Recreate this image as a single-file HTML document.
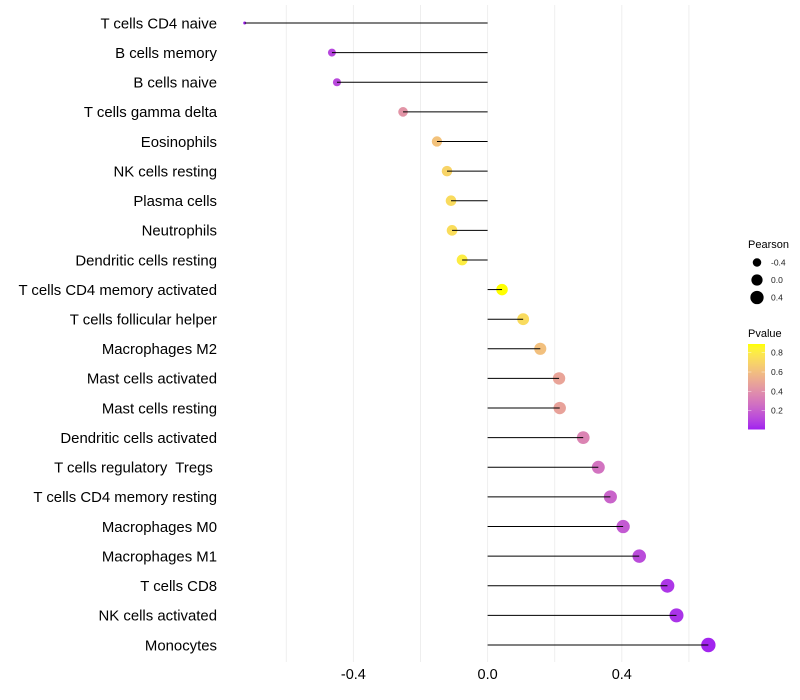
<!DOCTYPE html>
<html>
<head>
<meta charset="utf-8">
<style>
html,body{margin:0;padding:0;background:#fff;}
svg{display:block;font-family:"Liberation Sans",sans-serif;}
text{white-space:pre;}
</style>
</head>
<body>
<svg id="chart" width="800" height="700" viewBox="0 0 800 700" xmlns="http://www.w3.org/2000/svg">
<g id="grid"></g>
<g id="stems"></g>
<g id="points"></g>
<g id="ylabels"></g>
<g id="xlabels"></g>
<g id="size-legend">
<text x="748" y="248" font-size="11" fill="#000">Pearson</text>
</g>
<g id="color-legend">
<text x="748" y="337" font-size="11" fill="#000">Pvalue</text>
<defs><linearGradient id="pgrad" x1="0" y1="1" x2="0" y2="0"></linearGradient></defs>
<rect x="748" y="344" width="17" height="85.5" fill="url(#pgrad)"></rect>
</g>
</svg>
<script>
var categories = ["T cells CD4 naive","B cells memory","B cells naive","T cells gamma delta","Eosinophils","NK cells resting","Plasma cells","Neutrophils","Dendritic cells resting","T cells CD4 memory activated","T cells follicular helper","Macrophages M2","Mast cells activated","Mast cells resting","Dendritic cells activated","T cells regulatory  Tregs ","T cells CD4 memory resting","Macrophages M0","Macrophages M1","T cells CD8","NK cells activated","Monocytes"];
var pearson = [-0.724,-0.464,-0.449,-0.252,-0.151,-0.121,-0.109,-0.106,-0.076,0.043,0.106,0.157,0.213,0.215,0.285,0.33,0.366,0.404,0.452,0.536,0.563,0.658];
var pvalues = [0.005,0.11,0.12,0.42,0.62,0.70,0.73,0.74,0.81,0.89,0.73,0.61,0.49,0.48,0.35,0.28,0.22,0.18,0.13,0.06,0.05,0.015];
var xTicks = [-0.4,0,0.4];
var xGrid = [-0.6,-0.4,-0.2,0,0.2,0.4,0.6];
var sizeLegendValues = [-0.4,0,0.4];
var colorLegendTicks = [0.8,0.6,0.4,0.2];

var NS = "http://www.w3.org/2000/svg";
function make(tag, attrs, parent){
  var e = document.createElementNS(NS, tag);
  for (var k in attrs) e.setAttribute(k, attrs[k]);
  parent.appendChild(e);
  return e;
}
function xScale(v){ return 487.6 + v * 335.5; }
function yScale(i){ return 23 + i * (622 / (categories.length - 1)); }
var pMin = Math.min.apply(null, pvalues), pMax = Math.max.apply(null, pvalues);
var rMin = Math.min.apply(null, pearson), rMax = Math.max.apply(null, pearson);
function radius(v){
  var t = Math.max(0, (v - rMin) / (rMax - rMin));
  return 1.5 + 5.7 * Math.sqrt(t);
}
function lin2(c){ c /= 255; return c <= 0.04045 ? c / 12.92 : Math.pow((c + 0.055) / 1.055, 2.4); }
function gam(c){ c = c <= 0.0031308 ? 12.92 * c : 1.055 * Math.pow(c, 1 / 2.4) - 0.055; return Math.round(Math.max(0, Math.min(1, c)) * 255); }
function rgb2lab(c){
  var r = lin2(c[0]), g = lin2(c[1]), b = lin2(c[2]);
  var X = (0.4124 * r + 0.3576 * g + 0.1805 * b) / 0.95047;
  var Y = 0.2126 * r + 0.7152 * g + 0.0722 * b;
  var Z = (0.0193 * r + 0.1192 * g + 0.9505 * b) / 1.08883;
  function f(t){ return t > 0.008856 ? Math.cbrt(t) : 7.787 * t + 16 / 116; }
  return [116 * f(Y) - 16, 500 * (f(X) - f(Y)), 200 * (f(Y) - f(Z))];
}
function lab2rgb(l){
  var fy = (l[0] + 16) / 116, fx = fy + l[1] / 500, fz = fy - l[2] / 200;
  function g(t){ return t * t * t > 0.008856 ? t * t * t : (t - 16 / 116) / 7.787; }
  var X = g(fx) * 0.95047, Y = g(fy), Z = g(fz) * 1.08883;
  return "rgb(" + gam(3.2406 * X - 1.5372 * Y - 0.4986 * Z) + "," + gam(-0.9689 * X + 1.8758 * Y + 0.0415 * Z) + "," + gam(0.0557 * X - 0.204 * Y + 1.057 * Z) + ")";
}
var labLow = rgb2lab([160,32,240]), labHigh = rgb2lab([255,255,0]);
function colorAt(t){
  return lab2rgb([labLow[0] + (labHigh[0] - labLow[0]) * t, labLow[1] + (labHigh[1] - labLow[1]) * t, labLow[2] + (labHigh[2] - labLow[2]) * t]);
}
function pColor(p){ return colorAt((p - pMin) / (pMax - pMin)); }

var gridG = document.getElementById("grid");
xGrid.forEach(function(v){
  var l = make("line", {x1: xScale(v), x2: xScale(v), y1: 5, y2: 662, stroke: "#eeeeee", "stroke-width": 1}, gridG);
  
  
});

var stemsG = document.getElementById("stems"), pointsG = document.getElementById("points");
var yG = document.getElementById("ylabels");
categories.forEach(function(name, i){
  var c = make("circle", {cx: xScale(pearson[i]), cy: yScale(i), r: radius(pearson[i]), fill: pColor(pvalues[i])}, pointsG);
  
  
  var s = make("line", {x1: xScale(0), x2: xScale(pearson[i]), y1: yScale(i), y2: yScale(i), stroke: "#000", "stroke-width": 1}, stemsG);
  
  
  var t = make("text", {x: 217, y: yScale(i) + 5.3, "text-anchor": "end", "font-size": 14.92, fill: "#000"}, yG);
  t.textContent = name;
  
  
});
// stems sit above the points
document.getElementById("chart").insertBefore(pointsG, stemsG);

var xG = document.getElementById("xlabels");
xTicks.forEach(function(v){
  var t = make("text", {x: xScale(v), y: 679, "text-anchor": "middle", "font-size": 14.5, fill: "#000"}, xG);
  t.textContent = v.toFixed(1);
  
  
});

var sizeG = document.getElementById("size-legend");
sizeLegendValues.forEach(function(v, i){
  var cy = 262.5 + i * 17.5;
  var c = make("circle", {cx: 757, cy: cy, r: radius(v), fill: "#000"}, sizeG);
  
  
  var t = make("text", {x: 771, y: cy + 3, "font-size": 8.5, fill: "#222"}, sizeG);
  t.textContent = v.toFixed(1);
  
  
});

var grad = document.getElementById("pgrad");
for (var i = 0; i <= 20; i++) {
  make("stop", {offset: i / 20, "stop-color": colorAt(i / 20)}, grad);
}
var colorG = document.getElementById("color-legend");
function barY(p){ return 429.5 - (p - pMin) / (pMax - pMin) * 85.5; }
colorLegendTicks.forEach(function(v){
  var y = barY(v);
  var a = make("line", {x1: 748, x2: 751.4, y1: y, y2: y, stroke: "#fff", "stroke-opacity": 0.7, "stroke-width": 0.6}, colorG);
  
  
  var b = make("line", {x1: 761.6, x2: 765, y1: y, y2: y, stroke: "#fff", "stroke-opacity": 0.7, "stroke-width": 0.6}, colorG);
  
  
  var t = make("text", {x: 771, y: y + 3, "font-size": 8.5, fill: "#222"}, colorG);
  t.textContent = v.toFixed(1);
  
  
});
</script>
</body>
</html>
